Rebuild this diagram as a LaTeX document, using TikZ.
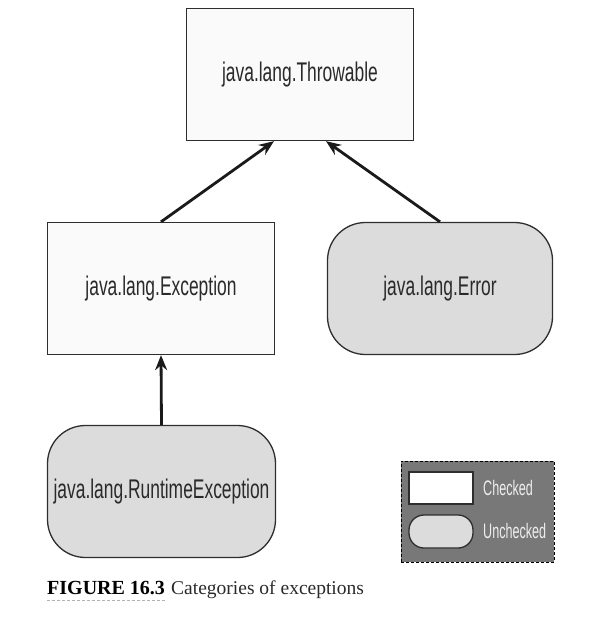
\documentclass[tikz,border=0pt]{standalone}
\usepackage{fontspec}
\usetikzlibrary{arrows.meta,calc}
\newfontfamily\condfont[FakeStretch=0.645]{Liberation Sans}
\newfontfamily\legfont[FakeStretch=0.6]{Liberation Sans}
\newfontfamily\capfont{Liberation Serif}
\definecolor{boxline}{HTML}{2E2E2E}
\definecolor{txtc}{HTML}{2A2A2A}
\definecolor{lightfill}{HTML}{FAFAFA}
\definecolor{grayfill}{HTML}{DCDCDC}
\definecolor{legbg}{HTML}{787878}
\definecolor{legtxt}{HTML}{EEEEEE}
\definecolor{arrc}{HTML}{1A1A1A}
\tikzset{
  checkedbox/.style={draw=boxline, line width=1.3pt, fill=lightfill, rectangle,
    minimum width=227pt, minimum height=132pt, inner sep=0pt,
    font=\condfont\fontsize{27}{30}\selectfont, text=txtc},
  uncheckedbox/.style={checkedbox, fill=grayfill, rounded corners=38pt},
  inherit/.style={draw=arrc, line width=2.8pt, -{Stealth[length=15pt,width=12pt]}},
  legtext/.style={font=\legfont\fontsize{21}{24}\selectfont, text=legtxt, anchor=west, inner sep=0pt}
}
\begin{document}
\begin{tikzpicture}[x=1pt,y=-1pt]
\useasboundingbox (0,0) rectangle (610,622);
\node[checkedbox] (thr) at (300,74.5) {java.lang.Throwable};
\node[checkedbox] (exc) at (161,288.5) {java.lang.Exception};
\node[uncheckedbox, minimum width=225pt] (err) at (440,288.5) {java.lang.Error};
\node[uncheckedbox, minimum width=228pt] (rt) at (161.5,491.5) {java.lang.RuntimeException};
\coordinate (tl) at ($(thr.south)+(-26,0)$);
\coordinate (tr) at ($(thr.south)+(26,0)$);
\draw[inherit] (exc.north) -- (tl);
\draw[inherit] (err.north) -- (tr);
\draw[inherit] (rt.north) -- (exc.south);
% legend
\node[draw=black, densely dashed, line width=0.8pt, fill=legbg, rectangle, inner sep=0pt,
  minimum width=153pt, minimum height=101pt] (leg) at (477.5,511.5) {};
\node[draw=boxline, line width=1.3pt, fill=white, rectangle, inner sep=0pt,
  minimum width=64pt, minimum height=32pt] (lchk) at (441,488) {};
\node[draw=boxline, line width=1.3pt, fill=grayfill, rectangle, rounded corners=15pt, inner sep=0pt,
  minimum width=64pt, minimum height=33pt] (lunc) at (441,531.5) {};
\node[legtext] (tchk) at (483,488) {Checked};
\node[legtext] (tunc) at (483,531) {Unchecked};
% caption
\node[anchor=base west, inner sep=0pt, font=\capfont\fontsize{20}{24}\selectfont\bfseries, text=black] (fig) at (47,594) {FIGURE 16.3};
\node[anchor=base west, inner sep=0pt, font=\capfont\fontsize{19.5}{23}\selectfont, text=txtc] (cap) at (171,594) {Categories of exceptions};
\draw[draw=gray!60, densely dashed, line width=0.6pt] ($(fig.base west)+(0,6)$) -- ($(fig.base east)+(0,6)$);
\end{tikzpicture}
\end{document}
